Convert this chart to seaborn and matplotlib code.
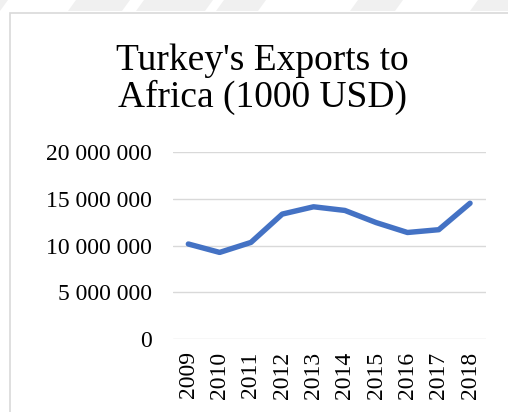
import matplotlib
matplotlib.use("Agg")
import matplotlib.pyplot as plt
import matplotlib.patches as mpatches
from matplotlib.ticker import FuncFormatter, MultipleLocator
import seaborn as sns
import pandas as pd

years = ["2009", "2010", "2011", "2012", "2013", "2014", "2015", "2016", "2017", "2018"]
exports = [10160000, 9260000, 10330000, 13360000, 14140000, 13750000, 12450000, 11390000, 11690000, 14520000]
title = "Turkey's Exports to\nAfrica (1000 USD)"

sns.set_theme(style="white")
plt.rcParams['font.family'] = ['Liberation Serif', 'DejaVu Serif']

W, H = 508, 412
fig = plt.figure(figsize=(W / 100, H / 100), dpi=100)
fig.patch.set_facecolor("white")

# faint watermark band at top
band = mpatches.Rectangle((0, 1 - 11 / H), 1, 11 / H, transform=fig.transFigure,
                          facecolor="#f0f0f0", edgecolor="none", zorder=0)
fig.patches.append(band)
for x0, x1 in [(0, 68), (122, 136), (205, 216), (258, 350), (395, 470)]:
    pts = [(x0 / W, 1 - 11 / H), (x1 / W, 1 - 11 / H), ((x1 + 8) / W, 1.0), ((x0 + 8) / W, 1.0)]
    fig.patches.append(mpatches.Polygon(pts, closed=True, transform=fig.transFigure,
                                        facecolor="white", edgecolor="none", zorder=1))

# chart border
border = mpatches.Rectangle((9.5 / W, -0.1), 1.2, 1 - 12.5 / H + 0.1, transform=fig.transFigure,
                            facecolor="white", edgecolor="#d9d9d9", linewidth=1.2, zorder=2)
fig.patches.append(border)

ax = fig.add_axes([172.7 / W, 1 - 339 / H, (485.7 - 172.7) / W, (339 - 152) / H])
ax.set_zorder(5)
ax.set_facecolor("none")
df = pd.DataFrame({"year": years, "value": exports})
sns.lineplot(data=df, x="year", y="value", ax=ax, color="#4472C4", linewidth=3.9,
             solid_capstyle="round", solid_joinstyle="round", zorder=3)

ax.set_xlim(-0.5, len(years) - 0.5)
ax.set_ylim(0, 20000000)
ax.yaxis.set_major_locator(MultipleLocator(5000000))
ax.yaxis.set_major_formatter(FuncFormatter(lambda v, p: f"{int(v):,}".replace(",", " ")))
ax.grid(axis="y", color="#d9d9d9", linewidth=1.0)
ax.grid(axis="x", visible=False)
for s in ax.spines.values():
    s.set_visible(False)
ax.set_xlabel("")
ax.set_ylabel("")
ax.tick_params(axis="y", length=0, pad=15, labelsize=17, labelcolor="black")
ax.tick_params(axis="x", length=0, pad=9, labelsize=17, labelcolor="black", rotation=90)
for lab in ax.get_xticklabels():
    lab.set_va("top")

fig.text(262 / W, 1 - 79 / H, title, ha="center", va="center", fontsize=27,
         color="black", linespacing=1.05, zorder=6)

fig.savefig("out.png", dpi=100)
